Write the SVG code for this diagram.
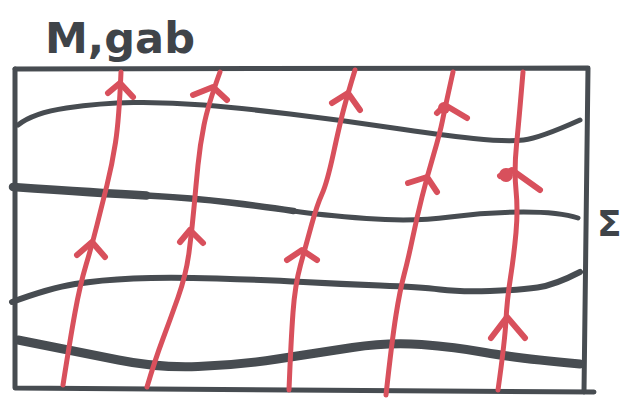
<svg xmlns="http://www.w3.org/2000/svg" width="621" height="399" viewBox="0 0 621 399">
<style>
.dk{fill:none;stroke:#474c51;stroke-linecap:round;stroke-linejoin:round}
.rd{fill:none;stroke:#d8505c;stroke-width:5;stroke-linecap:round;stroke-linejoin:round}
.ah{fill:none;stroke:#d8505c;stroke-width:6;stroke-linecap:round;stroke-linejoin:round}
.lbl{font-family:"DejaVu Sans",sans-serif;font-weight:bold;fill:#3f4449}
</style>
<rect width="621" height="399" fill="#ffffff"/>
<g id="title"><text class="lbl" x="45" y="53" font-size="42" textLength="150" lengthAdjust="spacingAndGlyphs">M,gab</text></g>
<g id="sigma"><text class="lbl" x="597" y="236" font-size="36">Σ</text></g>
<g id="frame">
<path class="dk" stroke-width="5" d="M15,69 L588,68 L584,392"/>
<path class="dk" stroke-width="5" d="M15,69 L15,388 L594,392"/>
</g>
<g id="surfaces">
<path class="dk" stroke-width="5" d="M18,125 Q33,113 66.5,108 Q100,103 133.5,102.5 Q167,102 203.5,105 Q240,108 290,114 Q340,120 390,127.5 Q440,135 473.5,138.5 Q507,142 523.5,140 Q540,138 580,120"/>
<path class="dk" stroke-width="5" d="M13,187 Q100,193 146.5,195.5 Q193,198 230,202.5 Q267,207 293.5,211 Q320,215 366.5,218.5 Q413,222 450,217 Q487,212 523.5,212 Q560,212 578,218"/>
<path class="dk" stroke-width="6.5" d="M13,187 Q100,193 146.5,195.5 Q193,198 230,202.5 Q267,207 293.5,211"/>
<path class="dk" stroke-width="8.5" d="M13,187 Q100,193 146.5,195.5"/>
<path class="dk" stroke-width="6" d="M12,302 Q50,288 75,284 Q100,280 133.5,278.5 Q167,277 217,278.5 Q267,280 303.5,282 Q340,284 380,285.5 Q420,287 440,289.5 Q460,292 490,291 Q520,290 537.5,287.5 Q555,285 580,272"/>
<path class="dk" stroke-width="9" d="M18,340 Q79,352 118.5,360 Q158,368 198,366.5 Q238,365 277.5,359 Q317,353 352.5,347.5 Q388,342 421.5,344.5 Q455,347 485,352.5 Q515,358 580,364"/>
</g>
<g id="field-lines">
<path class="rd" d="M121,72 Q119,120 115.5,142.5 Q112,165 107,185 Q102,205 97,225 Q92,245 86,265 Q80,285 75,312.5 Q70,340 63,385"/>
<path class="rd" d="M220,72 Q208,105 204,125 Q200,145 198,165 Q196,185 194,207.5 Q192,230 189,252.5 Q186,275 178,297.5 Q170,320 162.5,340 Q155,360 147,387"/>
<path class="rd" d="M355,70 Q348,93 344,108 Q340,123 333.5,153 Q327,183 322,194 Q317,205 311.5,225 Q306,245 300.5,265 Q295,285 293,312.5 Q291,340 289,390"/>
<path class="rd" d="M453,72 Q445,108 442.5,120.5 Q440,133 433.5,155 Q427,177 422,197 Q417,217 412.5,238.5 Q408,260 404,275 Q400,290 396,315 Q392,340 386,395"/>
<path class="rd" d="M523,72 Q519,120 516.5,145 Q514,170 516,190 Q518,210 516,232.5 Q514,255 510.5,277.5 Q507,300 506,320 Q505,340 498,390"/>
</g>
<g id="arrows">
<polyline class="ah" points="108,93 120,83 133,97"/>
<polyline class="ah" points="77,255 92,242 105,257"/>
<polyline class="ah" points="193,95 213,87 227,100"/>
<polyline class="ah" points="180,242 190,230 203,243"/>
<polyline class="ah" points="332,103 348,93 360,110"/>
<polyline class="ah" points="287,260 302,250 317,260"/>
<polyline class="ah" points="437,113 445,105 467,118"/>
<circle cx="444" cy="108" r="6" fill="#d8505c"/>
<polyline class="ah" points="408,183 427,177 437,192"/>
<polyline class="ah" points="500,176 512,170 540,190"/>
<circle cx="506" cy="175" r="7" fill="#d8505c"/>
<polyline class="ah" points="491,338 507,317 525,338"/>
</g>
</svg>
